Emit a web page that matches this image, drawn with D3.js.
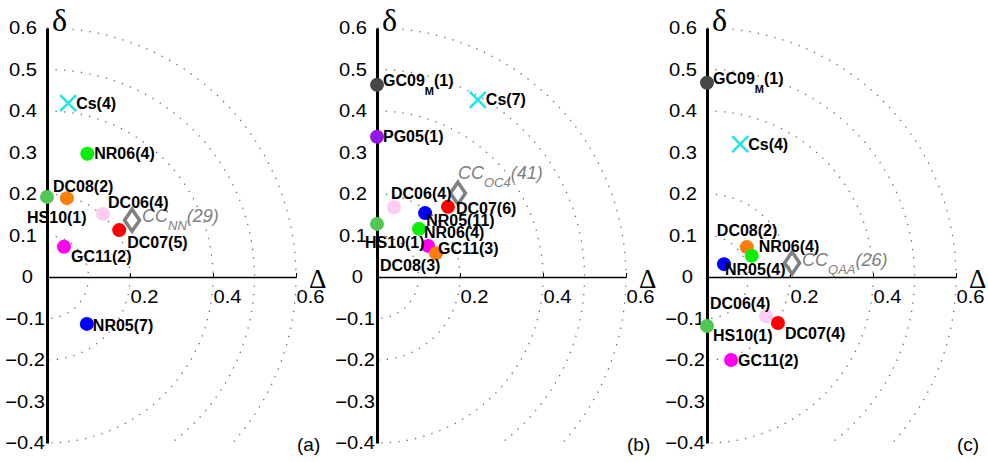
<!DOCTYPE html>
<html>
<head>
<meta charset="utf-8">
<script src="https://cdn.jsdelivr.net/npm/d3@7"></script>
<style>
  body { margin: 0; background: #fff; }
  svg { display: block; }
  text { font-family: "Liberation Sans", Arial, Helvetica, sans-serif; }
</style>
</head>
<body>
<svg id="chart" width="988" height="462"></svg>
<script>
// ---- Axis settings -------------------------------------------------------
const yTicks = [0.6, 0.5, 0.4, 0.3, 0.2, 0.1, 0, -0.1, -0.2, -0.3, -0.4];
const yTickLabels = ["0.6", "0.5", "0.4", "0.3", "0.2", "0.1", "0", "\u22120.1", "\u22120.2", "\u22120.3", "\u22120.4"];
const xTicks = [0.2, 0.4, 0.6];
const xTickLabels = ["0.2", "0.4", "0.6"];
const circleRadii = [0.1, 0.2, 0.4, 0.5, 0.6];
const panelTags = ["(a)", "(b)", "(c)"];

// ---- Panel (a) -----------------------------------------------------------
const methodsA = ["Cs", "NR06", "DC08", "HS10", "DC06", "DC07", "GC11", "NR05"];
const countsA = [4, 4, 2, 1, 4, 5, 2, 7];
const bigDeltaA = [0.051, 0.097, 0.048, 0.0, 0.135, 0.174, 0.041, 0.096];
const smallDeltaA = [0.419, 0.297, 0.19, 0.193, 0.152, 0.113, 0.073, -0.113];

// ---- Panel (b) -----------------------------------------------------------
const methodsB = ["GC09_M", "Cs", "PG05", "DC06", "DC07", "NR05", "HS10", "NR06", "GC11", "DC08"];
const countsB = [1, 7, 1, 4, 6, 11, 1, 4, 3, 3];
const bigDeltaB = [0.0, 0.243, 0.0, 0.041, 0.171, 0.116, 0.0, 0.101, 0.123, 0.142];
const smallDeltaB = [0.463, 0.427, 0.338, 0.168, 0.169, 0.154, 0.128, 0.116, 0.075, 0.057];

// ---- Panel (c) -----------------------------------------------------------
const methodsC = ["GC09_M", "Cs", "DC08", "NR06", "NR05", "DC06", "DC07", "HS10", "GC11"];
const countsC = [1, 4, 2, 4, 4, 4, 4, 1, 2];
const bigDeltaC = [0.0, 0.08, 0.096, 0.108, 0.041, 0.142, 0.171, 0.0, 0.058];
const smallDeltaC = [0.468, 0.32, 0.072, 0.051, 0.031, -0.094, -0.111, -0.118, -0.2];

// ---- Consensus (CC) per panel -----------------------------------------------
const consensusSubs = ["NN", "OC4", "QAA"];
const consensusCounts = [29, 41, 26];
const consensusBigDelta = [0.205, 0.195, 0.205];
const consensusSmallDelta = [0.137, 0.202, 0.034];

// ---- Styling and label placement ----------------------------------------
const methodColors = {
  Cs: "#1fe6e6", NR06: "#0aee0a", DC08: "#ff7d0a", HS10: "#52c852",
  DC06: "#ffccf4", DC07: "#ff0000", GC11: "#ff00f0", NR05: "#0000ff",
  GC09_M: "#474747", PG05: "#9618e6"
};
// label offsets [dx, dy] from the marker centre (text start, text middle)
const labelOffsets = [
  { Cs: [8, 0], NR06: [7, 0], DC08: [-14, -12], HS10: [-20, 20], DC06: [5, -12],
    DC07: [8, 12], GC11: [7, 10], NR05: [6, 1], CC: [10, -5] },
  { GC09_M: [6, -5], Cs: [8, 0], PG05: [6, 0], DC06: [-3, -14], DC07: [8, 1],
    NR05: [1, 7], HS10: [-12, 18], NR06: [5, 3], GC11: [10, 2], DC08: [-56, 12], CC: [0, -21] },
  { GC09_M: [6, -4], Cs: [8, 0], DC08: [-30, -17], NR06: [7, -10], NR05: [1, 5],
    DC06: [-56, -13], DC07: [7, 10], HS10: [6, 9], GC11: [7, 0], CC: [10, -3] }
];

const panelData = [
  { methods: methodsA, counts: countsA, bx: bigDeltaA, sy: smallDeltaA },
  { methods: methodsB, counts: countsB, bx: bigDeltaB, sy: smallDeltaB },
  { methods: methodsC, counts: countsC, bx: bigDeltaC, sy: smallDeltaC }
];

const svg = d3.select("#chart");
const unit = 415;          // pixels per unit of Δ / δ
const originY = 277;       // pixel row of δ = 0
const panelLeft = [47, 377, 707];
const tickStretch = 1.12;  // tick numerals are set slightly wide

function writeLabel(textSel, name, n, subSize, subShift) {
  const parts = name.split("_");
  if (parts.length > 1) {
    textSel.append("tspan").text(parts[0]);
    textSel.append("tspan").attr("font-size", subSize).attr("dy", subShift).text(parts[1]);
    textSel.append("tspan").attr("dy", -subShift).text(`(${n})`);
  } else {
    textSel.text(`${name}(${n})`);
  }
}

panelData.forEach((pd, p) => {
  const x0 = panelLeft[p];
  const x = d3.scaleLinear().domain([0, 0.6]).range([x0, x0 + 0.6 * unit]);
  const y = d3.scaleLinear().domain([-0.4, 0.6]).range([originY + 0.4 * unit, originY - 0.6 * unit]);
  const g = svg.append("g");

  // clip for the dotted distance circles
  const clipId = "clip" + p;
  g.append("clipPath").attr("id", clipId)
    .append("rect")
    .attr("x", x(0)).attr("y", y(0.6) - 1)
    .attr("width", x(0.6) - x(0) + 2).attr("height", y(-0.4) - y(0.6) + 2);

  g.append("g").attr("clip-path", `url(#${clipId})`)
    .selectAll("circle").data(circleRadii).join("circle")
    .attr("cx", x(0)).attr("cy", y(0))
    .attr("r", d => x(d) - x(0))
    .attr("fill", "none")
    .attr("stroke", "#6a6a6a")
    .attr("stroke-width", 1.3)
    .attr("stroke-dasharray", "1.3,7.2");

  // horizontal Δ axis
  const xAxis = d3.axisBottom(x).tickValues(xTicks)
    .tickFormat((d, i) => xTickLabels[i])
    .tickSizeInner(-4).tickSizeOuter(0).tickPadding(13);
  const gx = g.append("g").attr("transform", `translate(0,${y(0)})`).call(xAxis);
  gx.select(".domain").attr("stroke", "#000").attr("stroke-width", 1.3);
  gx.selectAll(".tick line").attr("stroke", "#000").attr("stroke-width", 1);
  gx.selectAll(".tick text")
    .attr("text-anchor", "start").attr("x", 0)
    .attr("transform", `scale(${tickStretch},1)`)
    .attr("font-size", 18).attr("fill", "#000")
    .style("font-family", "'Liberation Sans', Arial, sans-serif");

  // vertical δ axis
  const yAxis = d3.axisLeft(y).tickValues(yTicks)
    .tickFormat((d, i) => yTickLabels[i])
    .tickSize(0).tickPadding(0);
  const gy = g.append("g").attr("transform", `translate(${x(0)},0)`).call(yAxis);
  gy.select(".domain").attr("stroke", "#000").attr("stroke-width", 3);
  gy.selectAll(".tick text")
    .attr("font-size", 18).attr("fill", "#000")
    .attr("x", 0)
    .attr("transform", d => `translate(${d > 0 ? -10 : (d === 0 ? -14 : -2)},0) scale(${tickStretch},1)`)
    .style("font-family", "'Liberation Sans', Arial, sans-serif");

  // axis symbols
  g.append("text")
    .attr("x", x(0) + 5).attr("y", y(0.6) + 3)
    .attr("font-size", 32)
    .style("font-family", "'Liberation Serif', 'Times New Roman', serif")
    .attr("stroke", "#fff").attr("stroke-width", 5).attr("paint-order", "stroke")
    .text("\u03b4");
  g.append("text")
    .attr("x", x(0.6) + 13).attr("y", y(0) + 11)
    .attr("font-size", 27)
    .style("font-family", "'Liberation Serif', 'Times New Roman', serif")
    .text("\u0394");

  // panel tag
  g.append("text")
    .attr("x", x(0.6) + 1).attr("y", y(-0.4) + 8)
    .attr("font-size", 19)
    .text(panelTags[p]);

  // consensus marker (diamond)
  const cx = x(consensusBigDelta[p]), cy = y(consensusSmallDelta[p]);
  g.append("path")
    .attr("d", `M${cx},${cy - 11}L${cx + 7.5},${cy}L${cx},${cy + 11}L${cx - 7.5},${cy}Z`)
    .attr("fill", "none").attr("stroke", "#808080").attr("stroke-width", 3.5);
  const ccOff = labelOffsets[p].CC;
  const ccText = g.append("text")
    .attr("x", cx + ccOff[0]).attr("y", cy + ccOff[1] + 6.5)
    .attr("font-size", 18).attr("font-style", "italic").attr("fill", "#808080");
  ccText.append("tspan").text("CC");
  ccText.append("tspan").attr("font-size", 13).attr("dy", 8).text(consensusSubs[p]);
  ccText.append("tspan").attr("dy", -8).text(`(${consensusCounts[p]})`);

  // method markers
  pd.methods.forEach((m, i) => {
    const px = x(pd.bx[i]), py = y(pd.sy[i]);
    if (m === "Cs") {
      g.append("path")
        .attr("d", `M${px - 8},${py - 8}L${px + 8},${py + 8}M${px - 8},${py + 8}L${px + 8},${py - 8}`)
        .attr("stroke", methodColors[m]).attr("stroke-width", 2.5).attr("fill", "none");
    } else {
      g.append("circle")
        .attr("cx", px).attr("cy", py).attr("r", 7)
        .attr("fill", methodColors[m]);
    }
  });

  // method labels
  pd.methods.forEach((m, i) => {
    const px = x(pd.bx[i]), py = y(pd.sy[i]);
    const off = labelOffsets[p][m];
    const t = g.append("text")
      .attr("x", px + off[0]).attr("y", py + off[1] + 5.7)
      .attr("font-size", 16).attr("font-weight", "bold").attr("fill", "#000");
    writeLabel(t, m, pd.counts[i], 11, 9);
  });
});
</script>
</body>
</html>
